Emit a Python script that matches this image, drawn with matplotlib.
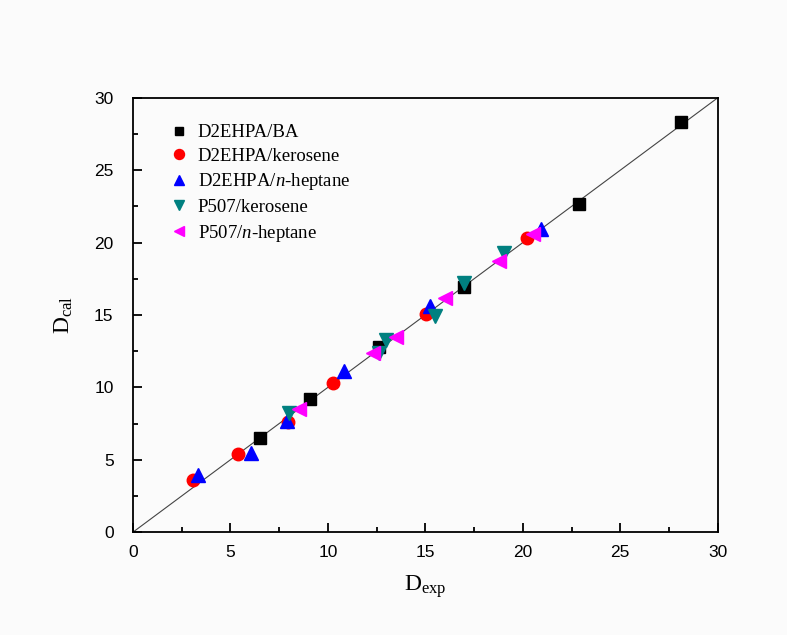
import matplotlib
matplotlib.use("Agg")
import matplotlib.pyplot as plt
from matplotlib.ticker import MultipleLocator

plt.rcParams['mathtext.fontset'] = 'custom'
plt.rcParams['mathtext.rm'] = 'Liberation Serif'
plt.rcParams['mathtext.it'] = 'Liberation Serif:italic'

series_names = ["D2EHPA/BA", "D2EHPA/kerosene", r"D2EHPA/$n$-heptane",
                "P507/kerosene", r"P507/$n$-heptane"]

ba_exp = [6.5, 9.1, 12.6, 17.0, 22.9, 28.1]
ba_cal = [6.5, 9.2, 12.8, 16.9, 22.65, 28.3]

dk_exp = [3.1, 5.4, 7.95, 10.27, 15.03, 20.2]
dk_cal = [3.6, 5.37, 7.62, 10.28, 15.05, 20.3]

dh_exp = [3.35, 6.03, 7.88, 10.8, 15.26, 20.95]
dh_cal = [3.94, 5.5, 7.69, 11.1, 15.6, 20.95]

pk_exp = [8.0, 12.6, 13.0, 15.5, 17.0, 19.05]
pk_cal = [8.25, 12.35, 13.3, 14.95, 17.2, 19.25]

ph_exp = [8.5, 12.3, 13.5, 16.0, 18.8, 20.5]
ph_cal = [8.5, 12.4, 13.5, 16.15, 18.7, 20.6]

line_x = [0, 30]
line_y = [0, 30]

bg = '#fbfbfb'
fig = plt.figure(figsize=(7.87, 6.35), dpi=100, facecolor=bg)
ax = fig.add_axes([0.169, 0.162, 0.743, 0.684], facecolor=bg)

ax.plot(line_x, line_y, color='#444444', lw=0.8, zorder=1)

ax.plot(ba_exp, ba_cal, 's', color='black', ms=8, label=series_names[0], zorder=3)
ax.plot(dk_exp, dk_cal, 'o', color='#ff0000', ms=9, label=series_names[1], zorder=3)
ax.plot(dh_exp, dh_cal, '^', color='#0000ff', ms=9.5, label=series_names[2], zorder=3)
ax.plot(pk_exp, pk_cal, 'v', color='#008080', ms=9.5, label=series_names[3], zorder=3)
ax.plot(ph_exp, ph_cal, '<', color='#ff00ff', ms=9.5, label=series_names[4], zorder=3)

ax.set_xlim(0, 30)
ax.set_ylim(0, 30)
ax.xaxis.set_major_locator(MultipleLocator(5))
ax.yaxis.set_major_locator(MultipleLocator(5))
ax.xaxis.set_minor_locator(MultipleLocator(2.5))
ax.yaxis.set_minor_locator(MultipleLocator(2.5))
ax.tick_params(which='both', direction='in', top=False, right=False, width=1.3)
ax.tick_params(which='major', length=6.5, labelsize=12.5)
ax.tick_params(axis='x', which='major', pad=9)
ax.tick_params(axis='y', which='major', pad=14)
ax.tick_params(which='minor', length=3.5)
for lab in ax.get_xticklabels() + ax.get_yticklabels():
    lab.set_family('Liberation Sans')
for s in ax.spines.values():
    s.set_linewidth(1.3)

ax.set_xlabel(r'$\mathrm{D}_{\mathrm{exp}}$', fontsize=17, labelpad=10)
ax.set_ylabel(r'$\mathrm{D}_{\mathrm{cal}}$', fontsize=17, labelpad=14)

leg = ax.legend(loc='upper left', bbox_to_anchor=(0.04, 0.97), frameon=False,
                prop={'family': 'Liberation Serif', 'size': 13.5},
                handlelength=1.0, handletextpad=0.5, labelspacing=0.35,
                borderaxespad=0.3, markerscale=0.8)

fig.savefig('out.png', dpi=100, facecolor=bg)
